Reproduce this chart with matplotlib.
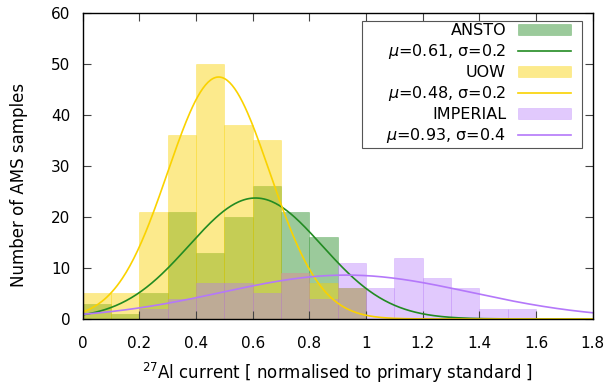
from matplotlib import pyplot as plt
from matplotlib.path import Path
import numpy as np

# histogram data (bin left edges, width 0.1)
bin_left = [0.0, 0.1, 0.2, 0.3, 0.4, 0.5, 0.6, 0.7, 0.8, 0.9, 1.0, 1.1, 1.2, 1.3, 1.4, 1.5]
ansto    = [3, 1, 5, 21, 13, 20, 26, 21, 16, 6, 0, 0, 0, 0, 0, 0]
uow      = [5, 5, 21, 36, 50, 38, 35, 9, 7, 6, 0, 0, 0, 0, 0, 0]
imperial = [0, 0, 2, 4, 7, 7, 5, 9, 4, 11, 6, 12, 8, 6, 2, 2]

# gaussian fits: centre, width, peak height
fit_mu    = [0.61, 0.48, 0.93]
fit_sigma = [0.235, 0.18, 0.44]
fit_peak  = [23.7, 47.4, 8.6]
fit_label = [r'$\mu$=0.61, σ=0.2', r'$\mu$=0.48, σ=0.2', r'$\mu$=0.93, σ=0.4']

names  = ['ANSTO', 'UOW', 'IMPERIAL']
series = [ansto, uow, imperial]
colors = [(34/255, 139/255, 34/255), (250/255, 210/255, 0/255), (180/255, 120/255, 250/255)]
alphas = [0.45, 0.45, 0.4]

plt.rcParams['font.family'] = ['DejaVu Sans']
plt.rcParams['font.size'] = 11
plt.rcParams['mathtext.fontset'] = 'dejavusans'

fig = plt.figure(figsize=(6.11, 3.86), dpi=100)
ax = fig.add_axes([0.1353, 0.1736, 0.8348, 0.7935])

xs = np.linspace(0, 1.8, 400)
handles = []
for name, vals, col, a, mu, sg, pk, lab in zip(names, series, colors, alphas,
                                                 fit_mu, fit_sigma, fit_peak, fit_label):
	bars = ax.bar(bin_left, vals, width=0.1, align='edge',
				  facecolor=(*col, a), edgecolor=(*col, 0.3), linewidth=0.6, label=name)
	line, = ax.plot(xs, pk*np.exp(-(xs-mu)**2/(2*sg**2)), color=col, lw=1.2, label=lab)
	handles += [bars, line]

ax.set_xlim(0, 1.8)
ax.set_ylim(0, 60)
ax.set_xticks(np.arange(0, 1.81, 0.2))
ax.set_xticklabels(['0', '0.2', '0.4', '0.6', '0.8', '1', '1.2', '1.4', '1.6', '1.8'])
ax.set_yticks(range(0, 61, 10))
ax.tick_params(direction='in', length=5.5, width=0.8, color='#444444',
			   top=True, right=True)
ax.tick_params(axis='x', pad=12.5)
ax.tick_params(axis='y', pad=9)
for s in ax.spines.values():
	s.set_linewidth(1.0)

ax.set_xlabel(r'$^{27}$Al current [ normalised to primary standard ]', fontsize=12)
ax.xaxis.label.set_va('baseline')
ax.xaxis.set_label_coords(0.5, -0.197)
ax.set_ylabel('Number of AMS samples', fontsize=12)
ax.yaxis.label.set_va('center')
ax.yaxis.set_label_coords(-0.125, 0.4375)

# legend frame a bit wider than its content, like the original
def wide_box(x0, y0, width, height, mutation_size):
	left = 1.4*mutation_size
	right = 0.54*mutation_size
	return Path([(x0-left, y0), (x0+width+right, y0), (x0+width+right, y0+height),
				 (x0-left, y0+height), (x0-left, y0)], closed=True)

leg = ax.legend(handles=handles, loc='upper right', bbox_to_anchor=(0.9622, 0.973),
				borderaxespad=0, markerfirst=False, fancybox=False, framealpha=1,
				edgecolor='#555555', fontsize=11.5, handlelength=3.32,
				handletextpad=0.75, labelspacing=0.25, borderpad=0.15)
leg.get_frame().set_linewidth(0.8)
leg.get_frame().set_boxstyle(wide_box)

plt.savefig('out.png', dpi=100)
